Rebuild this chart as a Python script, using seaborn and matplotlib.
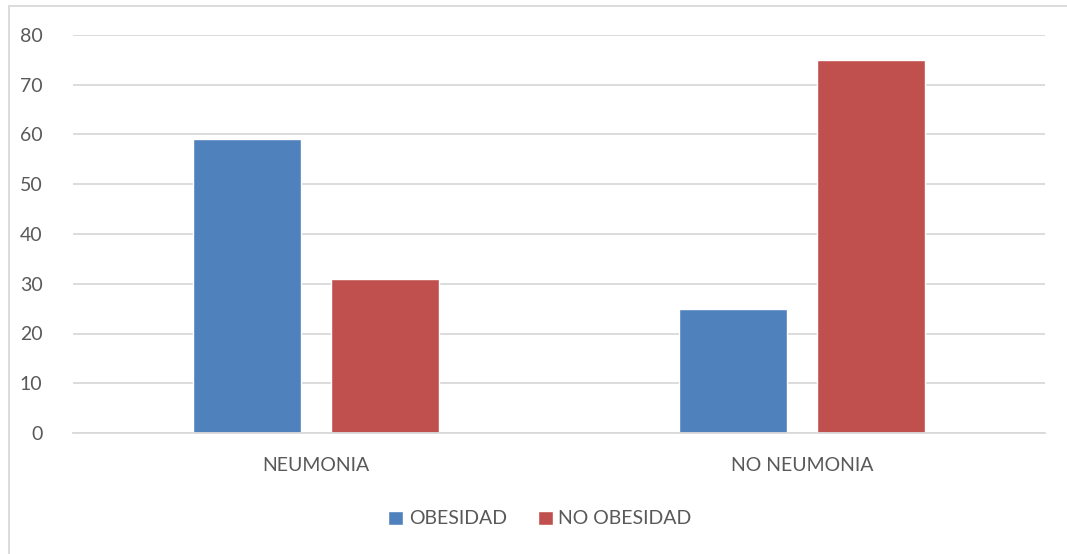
import matplotlib
matplotlib.use("Agg")
import matplotlib.pyplot as plt
from matplotlib.patches import Rectangle
import seaborn as sns
import pandas as pd

categories = ["NEUMONIA", "NO NEUMONIA"]
series_names = ["OBESIDAD", "NO OBESIDAD"]
obesidad = [59, 25]
no_obesidad = [31, 75]
y_ticks = [0, 10, 20, 30, 40, 50, 60, 70, 80]

df = pd.DataFrame({
    "categoria": categories * 2,
    "serie": [series_names[0]] * 2 + [series_names[1]] * 2,
    "valor": obesidad + no_obesidad,
})

sns.set_theme(style="white")
plt.rcParams["font.family"] = ["Lato", "DejaVu Sans"]

W, H = 1067, 554
fig = plt.figure(figsize=(W / 100, H / 100), dpi=100)
ax = fig.add_axes([73 / W, (H - 433) / H, (1045 - 73) / W, (433 - 35) / H])

palette = {"OBESIDAD": "#4F81BD", "NO OBESIDAD": "#C0504D"}
sns.barplot(data=df, x="categoria", y="valor", hue="serie", order=categories,
            hue_order=series_names, palette=palette, width=0.57, gap=0.221,
            saturation=1, ax=ax, legend=True)

ax.set_ylim(0, 80)
ax.set_xlim(-0.5, 1.5)
ax.set_yticks(y_ticks)
ax.yaxis.grid(True, color="#D9D9D9", linewidth=1.3)
ax.set_axisbelow(True)
for side in ["top", "right", "left"]:
    ax.spines[side].set_visible(False)
ax.spines["bottom"].set_color("#D9D9D9")
ax.spines["bottom"].set_linewidth(1.3)
ax.set_xlabel("")
ax.set_ylabel("")
ax.tick_params(axis="y", length=0, pad=22, labelsize=14, labelcolor="#595959")
ax.tick_params(axis="x", length=0, pad=17, labelsize=14, labelcolor="#595959")

handles, labels = ax.get_legend_handles_labels()
ax.get_legend().remove()
fig.legend(handles, labels, loc="center", bbox_to_anchor=(540 / W, (H - 519) / H),
           ncol=2, frameon=False, fontsize=14, labelcolor="#595959",
           handlelength=0.75, handleheight=0.75, handletextpad=0.3, columnspacing=1.6)

# chart area border
fig.patches.append(Rectangle((8.5 / W, -0.1), 1.2, 1 - 6.5 / H + 0.1,
                             transform=fig.transFigure, fill=False,
                             edgecolor="#D9D9D9", linewidth=1.3))

fig.savefig("out.png", dpi=100)
